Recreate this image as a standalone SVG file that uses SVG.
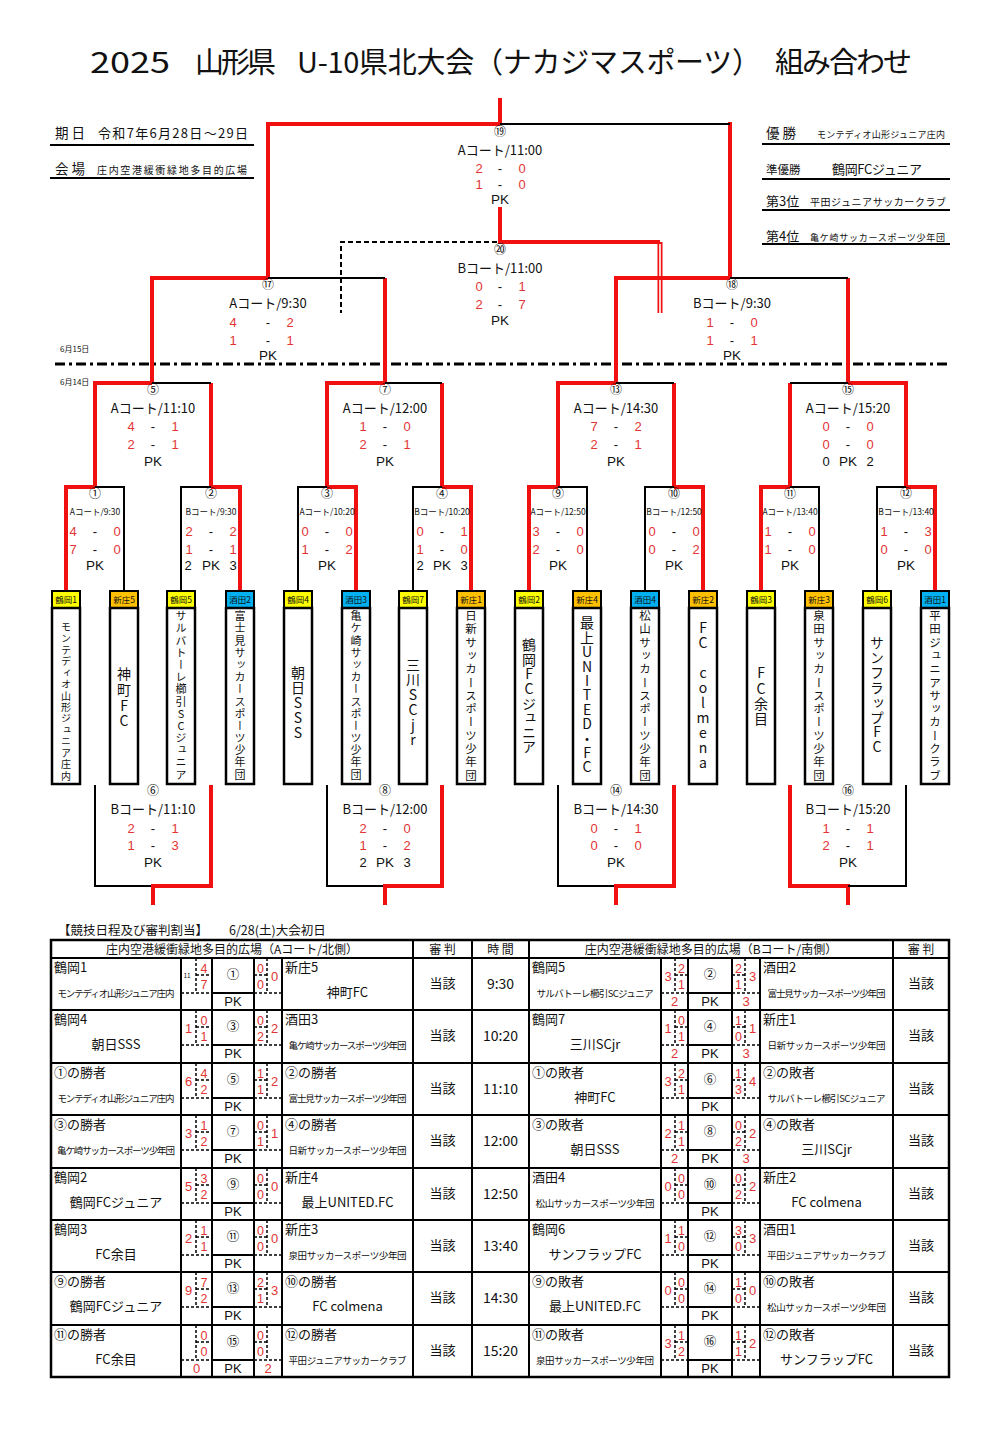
<svg xmlns="http://www.w3.org/2000/svg" width="998" height="1433" viewBox="0 0 998 1433">
<defs>
<style>
text{font-family:"Noto Sans CJK JP","Noto Sans",sans-serif;fill:#111}
.r{stroke:#f01010;stroke-width:4;fill:none}
.k{stroke:#000;stroke-width:2;fill:none}
.kd{stroke:#000;stroke-width:2;fill:none;stroke-dasharray:5,3}
.tl{stroke:#000;stroke-width:2;fill:none}
.td{stroke:#000;stroke-width:1.5;fill:none;stroke-dasharray:3,2}
.cn{font-size:12px;text-anchor:middle}
.ct{font-size:13px;text-anchor:middle}
.cs{font-size:8.5px;text-anchor:middle}
.s{font-family:"Liberation Sans",Arial,sans-serif;font-size:13px;fill:#e23434;text-anchor:middle}
.d{font-family:"Liberation Sans",Arial,sans-serif;font-size:13px;text-anchor:middle}
.pk{font-family:"Liberation Sans",Arial,sans-serif;font-size:13.5px;text-anchor:middle}
.lb{stroke:#000;stroke-width:2}
.nb{fill:#fff;stroke:#000;stroke-width:2.5}
.lt{font-size:8.5px;text-anchor:middle}
.vt{writing-mode:vertical-rl;text-orientation:upright;text-anchor:start}
.tlab{font-size:13px}
.tn{font-size:13px;text-anchor:middle}
.tns{font-size:9.5px;text-anchor:middle}
.h{font-family:"Liberation Sans",Arial,sans-serif;font-size:12.5px;fill:#e23434;text-anchor:middle}
.to{font-family:"Liberation Sans",Arial,sans-serif;font-size:13px;fill:#e23434;text-anchor:middle}
.tm{font-size:12.5px;text-anchor:middle}
.tp{font-family:"Liberation Sans",Arial,sans-serif;font-size:13px;text-anchor:middle}
.tj{font-size:13px;text-anchor:middle}
.tt{font-size:14px;text-anchor:middle}
.hd{font-size:12px;text-anchor:middle}
</style>
</defs>
<rect width="998" height="1433" fill="#fff"/>

<g id="title">
<text font-size="29" y="73"><tspan x="90" textLength="80" lengthAdjust="spacingAndGlyphs">2025</tspan><tspan x="195" textLength="81">山形県</tspan><tspan x="297" textLength="464">U-10県北大会（ナカジマスポーツ）</tspan><tspan x="775" textLength="137">組み合わせ</tspan></text>
</g>
<g id="info">
<text y="138"><tspan x="55" font-size="13.5">期 日</tspan><tspan x="98" font-size="13" textLength="150">令和7年6月28日～29日</tspan></text>
<text y="174"><tspan x="55" font-size="13.5">会 場</tspan><tspan x="97" font-size="10" textLength="150">庄内空港緩衝緑地多目的広場</tspan></text>
<path class="tl" d="M50,145H254M50,178H254"/>
<text y="138"><tspan x="766" font-size="13.5">優 勝</tspan><tspan x="817" font-size="9" textLength="128">モンテディオ山形ジュニア庄内</tspan></text>
<text y="174"><tspan x="766" font-size="11.5">準優勝</tspan><tspan x="832" font-size="13" textLength="90">鶴岡FCジュニア</tspan></text>
<text y="206"><tspan x="766" font-size="13">第3位</tspan><tspan x="810" font-size="10" textLength="136">平田ジュニアサッカークラブ</tspan></text>
<text y="241"><tspan x="766" font-size="13">第4位</tspan><tspan x="810" font-size="9" textLength="135">亀ケ崎サッカースポーツ少年団</tspan></text>
<path class="tl" d="M762,144H950M762,179H950M762,210H950M762,244H950"/>
<text x="60" y="352" font-size="8">6月15日</text>
<text x="60" y="385" font-size="8">6月14日</text>
<path d="M55,364H948" stroke="#000" stroke-width="3" stroke-dasharray="10,4,3,4" fill="none"/>
</g>

<g id="connectors">
<path class="r" d="M500,98V124M268,124H500M268,122V278M730,122V278"/>
<path class="k" d="M500,124H730"/>
<path class="r" d="M500,207V242H660"/>
<path d="M660,242V313" stroke="#f01010" stroke-width="5" fill="none"/>
<path d="M660,244V313" stroke="#fff" stroke-width="1.6" fill="none"/>
<path class="kd" d="M497,242H341V313"/>
<path class="r" d="M152,383V278H268M385,278V383"/>
<path class="k" d="M268,278H385"/>
<path class="r" d="M616,383V278H730M848,278V383"/>
<path class="k" d="M730,278H848"/>
<path class="r" d="M95,487V383H152M211,383V487"/>
<path class="k" d="M152,383H211"/>
<path class="r" d="M327,487V383H385M442,383V487"/>
<path class="k" d="M385,383H442"/>
<path class="r" d="M558,487V383H616M674,383V487"/>
<path class="k" d="M616,383H674"/>
<path class="r" d="M790,383V487M848,383H906V487"/>
<path class="k" d="M790,383H848"/>
<path class="r" d="M66,592V487H95"/><path class="k" d="M95,487H124V592"/>
<path class="k" d="M181,592V487H211"/><path class="r" d="M211,487H240V592"/>
<path class="k" d="M298,592V487H327"/><path class="r" d="M327,487H356V592"/>
<path class="k" d="M413,592V487H442"/><path class="r" d="M442,487H471V592H485"/>
<path class="r" d="M516,592H529V487H558"/><path class="k" d="M558,487H587V592"/>
<path class="k" d="M645,592V487H674"/><path class="r" d="M674,487H703V592H716"/>
<path class="r" d="M749,592H761V487H790"/><path class="k" d="M790,487H819V592"/>
<path class="k" d="M877,592V487H906"/><path class="r" d="M906,487H935V592"/>
<path class="k" d="M95,785V886H153"/><path class="r" d="M211,785V886H153V905"/>
<path class="k" d="M327,785V886H385"/><path class="r" d="M442,785V886H385V905"/>
<path class="k" d="M558,785V886H616"/><path class="r" d="M674,785V886H616V905"/>
<path class="r" d="M790,785V886H848V905"/><path class="k" d="M906,785V886H848"/>
</g>

<g id="m19"><text class="cn" x="500" y="136">⑲</text><text class="ct" x="500" y="155">Aコート/11:00</text><text class="s" x="479" y="173">2</text><text class="d" x="500" y="173">-</text><text class="s" x="522" y="173">0</text><text class="s" x="479" y="189">1</text><text class="d" x="500" y="189">-</text><text class="s" x="522" y="189">0</text><text class="pk" x="500" y="204">PK</text></g>
<g id="m20"><text class="cn" x="500" y="254">⑳</text><text class="ct" x="500" y="273">Bコート/11:00</text><text class="s" x="479" y="291">0</text><text class="d" x="500" y="291">-</text><text class="s" x="522" y="291">1</text><text class="s" x="479" y="309">2</text><text class="d" x="500" y="309">-</text><text class="s" x="522" y="309">7</text><text class="pk" x="500" y="325">PK</text></g>
<g id="m17"><text class="cn" x="268" y="289">⑰</text><text class="ct" x="268" y="308">Aコート/9:30</text><text class="s" x="233" y="327">4</text><text class="d" x="268" y="327">-</text><text class="s" x="290" y="327">2</text><text class="s" x="233" y="345">1</text><text class="d" x="268" y="345">-</text><text class="s" x="290" y="345">1</text><text class="pk" x="268" y="360">PK</text></g>
<g id="m18"><text class="cn" x="732" y="289">⑱</text><text class="ct" x="732" y="308">Bコート/9:30</text><text class="s" x="710" y="327">1</text><text class="d" x="732" y="327">-</text><text class="s" x="754" y="327">0</text><text class="s" x="710" y="345">1</text><text class="d" x="732" y="345">-</text><text class="s" x="754" y="345">1</text><text class="pk" x="732" y="360">PK</text></g>

<g id="m5"><text class="cn" x="153" y="394">⑤</text><text class="ct" x="153" y="413">Aコート/11:10</text><text class="s" x="131" y="431">4</text><text class="d" x="153" y="431">-</text><text class="s" x="175" y="431">1</text><text class="s" x="131" y="449">2</text><text class="d" x="153" y="449">-</text><text class="s" x="175" y="449">1</text><text class="pk" x="153" y="466">PK</text></g>
<g id="m7"><text class="cn" x="385" y="394">⑦</text><text class="ct" x="385" y="413">Aコート/12:00</text><text class="s" x="363" y="431">1</text><text class="d" x="385" y="431">-</text><text class="s" x="407" y="431">0</text><text class="s" x="363" y="449">2</text><text class="d" x="385" y="449">-</text><text class="s" x="407" y="449">1</text><text class="pk" x="385" y="466">PK</text></g>
<g id="m13"><text class="cn" x="616" y="394">⑬</text><text class="ct" x="616" y="413">Aコート/14:30</text><text class="s" x="594" y="431">7</text><text class="d" x="616" y="431">-</text><text class="s" x="638" y="431">2</text><text class="s" x="594" y="449">2</text><text class="d" x="616" y="449">-</text><text class="s" x="638" y="449">1</text><text class="pk" x="616" y="466">PK</text></g>
<g id="m15"><text class="cn" x="848" y="394">⑮</text><text class="ct" x="848" y="413">Aコート/15:20</text><text class="s" x="826" y="431">0</text><text class="d" x="848" y="431">-</text><text class="s" x="870" y="431">0</text><text class="s" x="826" y="449">0</text><text class="d" x="848" y="449">-</text><text class="s" x="870" y="449">0</text><text class="d" x="826" y="466">0</text><text class="pk" x="848" y="466">PK</text><text class="d" x="870" y="466">2</text></g>

<g id="m1"><text class="cn" x="95" y="498">①</text><text class="cs" x="95" y="515">Aコート/9:30</text><text class="s" x="73" y="536">4</text><text class="d" x="95" y="536">-</text><text class="s" x="117" y="536">0</text><text class="s" x="73" y="554">7</text><text class="d" x="95" y="554">-</text><text class="s" x="117" y="554">0</text><text class="pk" x="95" y="570">PK</text></g>
<g id="m2"><text class="cn" x="211" y="498">②</text><text class="cs" x="211" y="515">Bコート/9:30</text><text class="s" x="189" y="536">2</text><text class="d" x="211" y="536">-</text><text class="s" x="233" y="536">2</text><text class="s" x="189" y="554">1</text><text class="d" x="211" y="554">-</text><text class="s" x="233" y="554">1</text><text class="d" x="188" y="570">2</text><text class="pk" x="211" y="570">PK</text><text class="d" x="233" y="570">3</text></g>
<g id="m3"><text class="cn" x="327" y="498">③</text><text class="cs" x="327" y="515">Aコート/10:20</text><text class="s" x="305" y="536">0</text><text class="d" x="327" y="536">-</text><text class="s" x="349" y="536">0</text><text class="s" x="305" y="554">1</text><text class="d" x="327" y="554">-</text><text class="s" x="349" y="554">2</text><text class="pk" x="327" y="570">PK</text></g>
<g id="m4"><text class="cn" x="442" y="498">④</text><text class="cs" x="442" y="515">Bコート/10:20</text><text class="s" x="420" y="536">0</text><text class="d" x="442" y="536">-</text><text class="s" x="464" y="536">1</text><text class="s" x="420" y="554">1</text><text class="d" x="442" y="554">-</text><text class="s" x="464" y="554">0</text><text class="d" x="420" y="570">2</text><text class="pk" x="442" y="570">PK</text><text class="d" x="464" y="570">3</text></g>
<g id="m9"><text class="cn" x="558" y="498">⑨</text><text class="cs" x="558" y="515">Aコート/12:50</text><text class="s" x="536" y="536">3</text><text class="d" x="558" y="536">-</text><text class="s" x="580" y="536">0</text><text class="s" x="536" y="554">2</text><text class="d" x="558" y="554">-</text><text class="s" x="580" y="554">0</text><text class="pk" x="558" y="570">PK</text></g>
<g id="m10"><text class="cn" x="674" y="498">⑩</text><text class="cs" x="674" y="515">Bコート/12:50</text><text class="s" x="652" y="536">0</text><text class="d" x="674" y="536">-</text><text class="s" x="696" y="536">0</text><text class="s" x="652" y="554">0</text><text class="d" x="674" y="554">-</text><text class="s" x="696" y="554">2</text><text class="pk" x="674" y="570">PK</text></g>
<g id="m11"><text class="cn" x="790" y="498">⑪</text><text class="cs" x="790" y="515">Aコート/13:40</text><text class="s" x="768" y="536">1</text><text class="d" x="790" y="536">-</text><text class="s" x="812" y="536">0</text><text class="s" x="768" y="554">1</text><text class="d" x="790" y="554">-</text><text class="s" x="812" y="554">0</text><text class="pk" x="790" y="570">PK</text></g>
<g id="m12"><text class="cn" x="906" y="498">⑫</text><text class="cs" x="906" y="515">Bコート/13:40</text><text class="s" x="884" y="536">1</text><text class="d" x="906" y="536">-</text><text class="s" x="928" y="536">3</text><text class="s" x="884" y="554">0</text><text class="d" x="906" y="554">-</text><text class="s" x="928" y="554">0</text><text class="pk" x="906" y="570">PK</text></g>

<g id="m6"><text class="cn" x="153" y="795">⑥</text><text class="ct" x="153" y="814">Bコート/11:10</text><text class="s" x="131" y="833">2</text><text class="d" x="153" y="833">-</text><text class="s" x="175" y="833">1</text><text class="s" x="131" y="850">1</text><text class="d" x="153" y="850">-</text><text class="s" x="175" y="850">3</text><text class="pk" x="153" y="867">PK</text></g>
<g id="m8"><text class="cn" x="385" y="795">⑧</text><text class="ct" x="385" y="814">Bコート/12:00</text><text class="s" x="363" y="833">2</text><text class="d" x="385" y="833">-</text><text class="s" x="407" y="833">0</text><text class="s" x="363" y="850">1</text><text class="d" x="385" y="850">-</text><text class="s" x="407" y="850">2</text><text class="d" x="363" y="867">2</text><text class="pk" x="385" y="867">PK</text><text class="d" x="407" y="867">3</text></g>
<g id="m14"><text class="cn" x="616" y="795">⑭</text><text class="ct" x="616" y="814">Bコート/14:30</text><text class="s" x="594" y="833">0</text><text class="d" x="616" y="833">-</text><text class="s" x="638" y="833">1</text><text class="s" x="594" y="850">0</text><text class="d" x="616" y="850">-</text><text class="s" x="638" y="850">0</text><text class="pk" x="616" y="867">PK</text></g>
<g id="m16"><text class="cn" x="848" y="795">⑯</text><text class="ct" x="848" y="814">Bコート/15:20</text><text class="s" x="826" y="833">1</text><text class="d" x="848" y="833">-</text><text class="s" x="870" y="833">1</text><text class="s" x="826" y="850">2</text><text class="d" x="848" y="850">-</text><text class="s" x="870" y="850">1</text><text class="pk" x="848" y="867">PK</text></g>

<g id="team1"><rect class="lb" x="52" y="591" width="28" height="17" fill="#ffff00"/><text class="lt" x="66" y="603">鶴岡1</text><rect class="nb" x="52" y="608" width="28" height="176"/><text class="vt" x="66" y="622" font-size="10" textLength="159" lengthAdjust="spacing">モンテディオ山形ジュニア庄内</text></g>
<g id="team2"><rect class="lb" x="110" y="591" width="28" height="17" fill="#ffc000"/><text class="lt" x="124" y="603">新庄5</text><rect class="nb" x="110" y="608" width="28" height="176"/><text class="vt" x="124" y="667" font-size="14" textLength="61" lengthAdjust="spacing">神町FC</text></g>
<g id="team3"><rect class="lb" x="167" y="591" width="28" height="17" fill="#ffff00"/><text class="lt" x="181" y="603">鶴岡5</text><rect class="nb" x="167" y="608" width="28" height="176"/><text class="vt" x="181" y="610.5" font-size="11" textLength="169.5" lengthAdjust="spacing">サルバトーレ櫛引SCジュニア</text></g>
<g id="team4"><rect class="lb" x="226" y="591" width="28" height="17" fill="#00b0f0"/><text class="lt" x="240" y="603">酒田2</text><rect class="nb" x="226" y="608" width="28" height="176"/><text class="vt" x="240" y="610.5" font-size="11" textLength="169.5" lengthAdjust="spacing">富士見サッカースポーツ少年団</text></g>
<g id="team5"><rect class="lb" x="284" y="591" width="28" height="17" fill="#ffff00"/><text class="lt" x="298" y="603">鶴岡4</text><rect class="nb" x="284" y="608" width="28" height="176"/><text class="vt" x="298" y="666" font-size="14" textLength="74" lengthAdjust="spacing">朝日SSS</text></g>
<g id="team6"><rect class="lb" x="342" y="591" width="28" height="17" fill="#00b0f0"/><text class="lt" x="356" y="603">酒田3</text><rect class="nb" x="342" y="608" width="28" height="176"/><text class="vt" x="356" y="610.5" font-size="11" textLength="169.5" lengthAdjust="spacing">亀ケ崎サッカースポーツ少年団</text></g>
<g id="team7"><rect class="lb" x="399" y="591" width="28" height="17" fill="#ffff00"/><text class="lt" x="413" y="603">鶴岡7</text><rect class="nb" x="399" y="608" width="28" height="176"/><text class="vt" x="413" y="658" font-size="14" textLength="89" lengthAdjust="spacing">三川SCjr</text></g>
<g id="team8"><rect class="lb" x="457" y="591" width="28" height="17" fill="#ffc000"/><text class="lt" x="471" y="603">新庄1</text><rect class="nb" x="457" y="608" width="28" height="176"/><text class="vt" x="471" y="610" font-size="11.5" textLength="171" lengthAdjust="spacing">日新サッカースポーツ少年団</text></g>
<g id="team9"><rect class="lb" x="515" y="591" width="28" height="17" fill="#ffff00"/><text class="lt" x="529" y="603">鶴岡2</text><rect class="nb" x="515" y="608" width="28" height="176"/><text class="vt" x="529" y="638" font-size="14" textLength="116" lengthAdjust="spacing">鶴岡FCジュニア</text></g>
<g id="team10"><rect class="lb" x="573" y="591" width="28" height="17" fill="#ffc000"/><text class="lt" x="587" y="603">新庄4</text><rect class="nb" x="573" y="608" width="28" height="176"/><text class="vt" x="587" y="616" font-size="14" textLength="158" lengthAdjust="spacing">最上UNITED・FC</text></g>
<g id="team11"><rect class="lb" x="631" y="591" width="28" height="17" fill="#00b0f0"/><text class="lt" x="645" y="603">酒田4</text><rect class="nb" x="631" y="608" width="28" height="176"/><text class="vt" x="645" y="610" font-size="11.5" textLength="171" lengthAdjust="spacing">松山サッカースポーツ少年団</text></g>
<g id="team12"><rect class="lb" x="689" y="591" width="28" height="17" fill="#ffc000"/><text class="lt" x="703" y="603">新庄2</text><rect class="nb" x="689" y="608" width="28" height="176"/><text class="vt" x="703" y="621" font-size="14" textLength="149" lengthAdjust="spacing">FC colmena</text></g>
<g id="team13"><rect class="lb" x="747" y="591" width="28" height="17" fill="#ffff00"/><text class="lt" x="761" y="603">鶴岡3</text><rect class="nb" x="747" y="608" width="28" height="176"/><text class="vt" x="761" y="666" font-size="14" textLength="60" lengthAdjust="spacing">FC余目</text></g>
<g id="team14"><rect class="lb" x="805" y="591" width="28" height="17" fill="#ffc000"/><text class="lt" x="819" y="603">新庄3</text><rect class="nb" x="805" y="608" width="28" height="176"/><text class="vt" x="819" y="610" font-size="11.5" textLength="171" lengthAdjust="spacing">泉田サッカースポーツ少年団</text></g>
<g id="team15"><rect class="lb" x="863" y="591" width="28" height="17" fill="#ffff00"/><text class="lt" x="877" y="603">鶴岡6</text><rect class="nb" x="863" y="608" width="28" height="176"/><text class="vt" x="877" y="636" font-size="14" textLength="118" lengthAdjust="spacing">サンフラップFC</text></g>
<g id="team16"><rect class="lb" x="921" y="591" width="28" height="17" fill="#00b0f0"/><text class="lt" x="935" y="603">酒田1</text><rect class="nb" x="921" y="608" width="28" height="176"/><text class="vt" x="935" y="610" font-size="11.5" textLength="171" lengthAdjust="spacing">平田ジュニアサッカークラブ</text></g>

<g id="table">
<text y="935" font-size="12.5"><tspan x="58">【競技日程及び審判割当】</tspan><tspan x="229">6/28(土)大会初日</tspan></text>
<rect x="51" y="940" width="898" height="437" fill="none" stroke="#000" stroke-width="2.5"/>
<path class="tl" d="M51,958H949M51,1010H949M51,1063H949M51,1115H949M51,1168H949M51,1220H949M51,1272H949M51,1325H949"/>
<path class="tl" d="M413,940V1377M472,940V1377M529,940V1377M893,940V1377"/>
<path class="tl" d="M181,958V1377M212,958V1377M254,958V1377M282,958V1377M661,958V1377M688,958V1377M732,958V1377M760,958V1377"/>
<path class="tl" d="M212,993H254M688,993H732M212,1045H254M688,1045H732M212,1098H254M688,1098H732M212,1150H254M688,1150H732M212,1203H254M688,1203H732M212,1255H254M688,1255H732M212,1307H254M688,1307H732M212,1360H254M688,1360H732"/>
<path class="td" d="M181,993H212M254,993H282M661,993H688M732,993H760M181,1045H212M254,1045H282M661,1045H688M732,1045H760M181,1098H212M254,1098H282M661,1098H688M732,1098H760M181,1150H212M254,1150H282M661,1150H688M732,1150H760M181,1203H212M254,1203H282M661,1203H688M732,1203H760M181,1255H212M254,1255H282M661,1255H688M732,1255H760M181,1307H212M254,1307H282M661,1307H688M732,1307H760M181,1360H212M254,1360H282M661,1360H688M732,1360H760"/>
<path class="td" d="M196,958V993M267,958V993M675,958V993M745,958V993M196,1010V1045M267,1010V1045M675,1010V1045M745,1010V1045M196,1063V1098M267,1063V1098M675,1063V1098M745,1063V1098M196,1115V1150M267,1115V1150M675,1115V1150M745,1115V1150M196,1168V1203M267,1168V1203M675,1168V1203M745,1168V1203M196,1220V1255M267,1220V1255M675,1220V1255M745,1220V1255M196,1272V1307M267,1272V1307M675,1272V1307M745,1272V1307M196,1325V1360M267,1325V1360M675,1325V1360M745,1325V1360"/>
<path class="td" d="M196,975H212M254,975H267M675,975H688M732,975H745M196,1027H212M254,1027H267M675,1027H688M732,1027H745M196,1080H212M254,1080H267M675,1080H688M732,1080H745M196,1132H212M254,1132H267M675,1132H688M732,1132H745M196,1185H212M254,1185H267M675,1185H688M732,1185H745M196,1237H212M254,1237H267M675,1237H688M732,1237H745M196,1289H212M254,1289H267M675,1289H688M732,1289H745M196,1342H212M254,1342H267M675,1342H688M732,1342H745"/>
<text class="hd" x="232" y="954">庄内空港緩衝緑地多目的広場（Aコート/北側）</text>
<text class="hd" x="442.5" y="954">審 判</text>
<text class="hd" x="500.5" y="954">時 間</text>
<text class="hd" x="711" y="954">庄内空港緩衝緑地多目的広場（Bコート/南側）</text>
<text class="hd" x="921" y="954">審 判</text>

<g id="rowA1"><text class="tlab" x="54" y="972">鶴岡1</text><text class="tns" x="116" y="997" textLength="117">モンテディオ山形ジュニア庄内</text><text x="187" y="978" font-size="6.5" fill="#e23434" text-anchor="middle" font-family="Liberation Sans, sans-serif">11</text><text class="h" x="204" y="972.5">4</text><text class="h" x="204" y="988.5">7</text><text class="tm" x="233" y="979">①</text><text class="h" x="260.5" y="972.5">0</text><text class="h" x="260.5" y="988.5">0</text><text class="to" x="274.5" y="980.5">0</text><text class="tp" x="233" y="1006">PK</text><text class="tlab" x="285" y="972">新庄5</text><text class="tn" x="347.5" y="997">神町FC</text><text class="tj" x="442.5" y="988">当該</text><text class="tt" x="500.5" y="989">9:30</text></g>
<g id="rowA2"><text class="tlab" x="54" y="1024">鶴岡4</text><text class="tn" x="116" y="1049">朝日SSS</text><text class="to" x="188.5" y="1032.5">1</text><text class="h" x="204" y="1024.5">0</text><text class="h" x="204" y="1040.5">1</text><text class="tm" x="233" y="1031">③</text><text class="h" x="260.5" y="1024.5">0</text><text class="h" x="260.5" y="1040.5">2</text><text class="to" x="274.5" y="1032.5">2</text><text class="tp" x="233" y="1058">PK</text><text class="tlab" x="285" y="1024">酒田3</text><text class="tns" x="347.5" y="1049" textLength="118">亀ケ崎サッカースポーツ少年団</text><text class="tj" x="442.5" y="1040">当該</text><text class="tt" x="500.5" y="1041">10:20</text></g>
<g id="rowA3"><text class="tlab" x="54" y="1077">①の勝者</text><text class="tns" x="116" y="1102" textLength="117">モンテディオ山形ジュニア庄内</text><text class="to" x="188.5" y="1085.5">6</text><text class="h" x="204" y="1077.5">4</text><text class="h" x="204" y="1093.5">2</text><text class="tm" x="233" y="1084">⑤</text><text class="h" x="260.5" y="1077.5">1</text><text class="h" x="260.5" y="1093.5">1</text><text class="to" x="274.5" y="1085.5">2</text><text class="tp" x="233" y="1111">PK</text><text class="tlab" x="285" y="1077">②の勝者</text><text class="tns" x="347.5" y="1102" textLength="118">富士見サッカースポーツ少年団</text><text class="tj" x="442.5" y="1093">当該</text><text class="tt" x="500.5" y="1094">11:10</text></g>
<g id="rowA4"><text class="tlab" x="54" y="1129">③の勝者</text><text class="tns" x="116" y="1154" textLength="118">亀ケ崎サッカースポーツ少年団</text><text class="to" x="188.5" y="1137.5">3</text><text class="h" x="204" y="1129.5">1</text><text class="h" x="204" y="1145.5">2</text><text class="tm" x="233" y="1136">⑦</text><text class="h" x="260.5" y="1129.5">0</text><text class="h" x="260.5" y="1145.5">1</text><text class="to" x="274.5" y="1137.5">1</text><text class="tp" x="233" y="1163">PK</text><text class="tlab" x="285" y="1129">④の勝者</text><text class="tns" x="347.5" y="1154" textLength="118">日新サッカースポーツ少年団</text><text class="tj" x="442.5" y="1145">当該</text><text class="tt" x="500.5" y="1146">12:00</text></g>
<g id="rowA5"><text class="tlab" x="54" y="1182">鶴岡2</text><text class="tn" x="116" y="1207">鶴岡FCジュニア</text><text class="to" x="188.5" y="1190.5">5</text><text class="h" x="204" y="1182.5">3</text><text class="h" x="204" y="1198.5">2</text><text class="tm" x="233" y="1189">⑨</text><text class="h" x="260.5" y="1182.5">0</text><text class="h" x="260.5" y="1198.5">0</text><text class="to" x="274.5" y="1190.5">0</text><text class="tp" x="233" y="1216">PK</text><text class="tlab" x="285" y="1182">新庄4</text><text class="tn" x="347.5" y="1207">最上UNITED.FC</text><text class="tj" x="442.5" y="1198">当該</text><text class="tt" x="500.5" y="1199">12:50</text></g>
<g id="rowA6"><text class="tlab" x="54" y="1234">鶴岡3</text><text class="tn" x="116" y="1259">FC余目</text><text class="to" x="188.5" y="1242.5">2</text><text class="h" x="204" y="1234.5">1</text><text class="h" x="204" y="1250.5">1</text><text class="tm" x="233" y="1241">⑪</text><text class="h" x="260.5" y="1234.5">0</text><text class="h" x="260.5" y="1250.5">0</text><text class="to" x="274.5" y="1242.5">0</text><text class="tp" x="233" y="1268">PK</text><text class="tlab" x="285" y="1234">新庄3</text><text class="tns" x="347.5" y="1259" textLength="118">泉田サッカースポーツ少年団</text><text class="tj" x="442.5" y="1250">当該</text><text class="tt" x="500.5" y="1251">13:40</text></g>
<g id="rowA7"><text class="tlab" x="54" y="1286">⑨の勝者</text><text class="tn" x="116" y="1311">鶴岡FCジュニア</text><text class="to" x="188.5" y="1294.5">9</text><text class="h" x="204" y="1286.5">7</text><text class="h" x="204" y="1302.5">2</text><text class="tm" x="233" y="1293">⑬</text><text class="h" x="260.5" y="1286.5">2</text><text class="h" x="260.5" y="1302.5">1</text><text class="to" x="274.5" y="1294.5">3</text><text class="tp" x="233" y="1320">PK</text><text class="tlab" x="285" y="1286">⑩の勝者</text><text class="tn" x="347.5" y="1311">FC colmena</text><text class="tj" x="442.5" y="1302">当該</text><text class="tt" x="500.5" y="1303">14:30</text></g>
<g id="rowA8"><text class="tlab" x="54" y="1339">⑪の勝者</text><text class="tn" x="116" y="1364">FC余目</text><text class="h" x="204" y="1339.5">0</text><text class="h" x="204" y="1355.5">0</text><text class="tm" x="233" y="1346">⑮</text><text class="h" x="260.5" y="1339.5">0</text><text class="h" x="260.5" y="1355.5">0</text><text class="to" x="196.5" y="1373">0</text><text class="tp" x="233" y="1373">PK</text><text class="to" x="268" y="1373">2</text><text class="tlab" x="285" y="1339">⑫の勝者</text><text class="tns" x="347.5" y="1364" textLength="118">平田ジュニアサッカークラブ</text><text class="tj" x="442.5" y="1355">当該</text><text class="tt" x="500.5" y="1356">15:20</text></g>

<g id="rowB1"><text class="tlab" x="532" y="972">鶴岡5</text><text class="tns" x="595" y="997" textLength="117">サルバトーレ櫛引SCジュニア</text><text class="to" x="668" y="980.5">3</text><text class="h" x="681.5" y="972.5">2</text><text class="h" x="681.5" y="988.5">1</text><text class="tm" x="710" y="979">②</text><text class="h" x="738.5" y="972.5">2</text><text class="h" x="738.5" y="988.5">1</text><text class="to" x="752.5" y="980.5">3</text><text class="to" x="674.5" y="1006">2</text><text class="tp" x="710" y="1006">PK</text><text class="to" x="746" y="1006">3</text><text class="tlab" x="763" y="972">酒田2</text><text class="tns" x="826.5" y="997" textLength="118">富士見サッカースポーツ少年団</text><text class="tj" x="921" y="988">当該</text></g>
<g id="rowB2"><text class="tlab" x="532" y="1024">鶴岡7</text><text class="tn" x="595" y="1049">三川SCjr</text><text class="to" x="668" y="1032.5">1</text><text class="h" x="681.5" y="1024.5">0</text><text class="h" x="681.5" y="1040.5">1</text><text class="tm" x="710" y="1031">④</text><text class="h" x="738.5" y="1024.5">1</text><text class="h" x="738.5" y="1040.5">0</text><text class="to" x="752.5" y="1032.5">1</text><text class="to" x="674.5" y="1058">2</text><text class="tp" x="710" y="1058">PK</text><text class="to" x="746" y="1058">3</text><text class="tlab" x="763" y="1024">新庄1</text><text class="tns" x="826.5" y="1049" textLength="118">日新サッカースポーツ少年団</text><text class="tj" x="921" y="1040">当該</text></g>
<g id="rowB3"><text class="tlab" x="532" y="1077">①の敗者</text><text class="tn" x="595" y="1102">神町FC</text><text class="to" x="668" y="1085.5">3</text><text class="h" x="681.5" y="1077.5">2</text><text class="h" x="681.5" y="1093.5">1</text><text class="tm" x="710" y="1084">⑥</text><text class="h" x="738.5" y="1077.5">1</text><text class="h" x="738.5" y="1093.5">3</text><text class="to" x="752.5" y="1085.5">4</text><text class="tp" x="710" y="1111">PK</text><text class="tlab" x="763" y="1077">②の敗者</text><text class="tns" x="826.5" y="1102" textLength="118">サルバトーレ櫛引SCジュニア</text><text class="tj" x="921" y="1093">当該</text></g>
<g id="rowB4"><text class="tlab" x="532" y="1129">③の敗者</text><text class="tn" x="595" y="1154">朝日SSS</text><text class="to" x="668" y="1137.5">2</text><text class="h" x="681.5" y="1129.5">1</text><text class="h" x="681.5" y="1145.5">1</text><text class="tm" x="710" y="1136">⑧</text><text class="h" x="738.5" y="1129.5">0</text><text class="h" x="738.5" y="1145.5">2</text><text class="to" x="752.5" y="1137.5">2</text><text class="to" x="674.5" y="1163">2</text><text class="tp" x="710" y="1163">PK</text><text class="to" x="746" y="1163">3</text><text class="tlab" x="763" y="1129">④の敗者</text><text class="tn" x="826.5" y="1154">三川SCjr</text><text class="tj" x="921" y="1145">当該</text></g>
<g id="rowB5"><text class="tlab" x="532" y="1182">酒田4</text><text class="tns" x="595" y="1207" textLength="119">松山サッカースポーツ少年団</text><text class="to" x="668" y="1190.5">0</text><text class="h" x="681.5" y="1182.5">0</text><text class="h" x="681.5" y="1198.5">0</text><text class="tm" x="710" y="1189">⑩</text><text class="h" x="738.5" y="1182.5">0</text><text class="h" x="738.5" y="1198.5">2</text><text class="to" x="752.5" y="1190.5">2</text><text class="tp" x="710" y="1216">PK</text><text class="tlab" x="763" y="1182">新庄2</text><text class="tn" x="826.5" y="1207">FC colmena</text><text class="tj" x="921" y="1198">当該</text></g>
<g id="rowB6"><text class="tlab" x="532" y="1234">鶴岡6</text><text class="tn" x="595" y="1259">サンフラップFC</text><text class="to" x="668" y="1242.5">1</text><text class="h" x="681.5" y="1234.5">1</text><text class="h" x="681.5" y="1250.5">0</text><text class="tm" x="710" y="1241">⑫</text><text class="h" x="738.5" y="1234.5">3</text><text class="h" x="738.5" y="1250.5">0</text><text class="to" x="752.5" y="1242.5">3</text><text class="tp" x="710" y="1268">PK</text><text class="tlab" x="763" y="1234">酒田1</text><text class="tns" x="826.5" y="1259" textLength="119">平田ジュニアサッカークラブ</text><text class="tj" x="921" y="1250">当該</text></g>
<g id="rowB7"><text class="tlab" x="532" y="1286">⑨の敗者</text><text class="tn" x="595" y="1311">最上UNITED.FC</text><text class="to" x="668" y="1294.5">0</text><text class="h" x="681.5" y="1286.5">0</text><text class="h" x="681.5" y="1302.5">0</text><text class="tm" x="710" y="1293">⑭</text><text class="h" x="738.5" y="1286.5">1</text><text class="h" x="738.5" y="1302.5">0</text><text class="to" x="752.5" y="1294.5">0</text><text class="tp" x="710" y="1320">PK</text><text class="tlab" x="763" y="1286">⑩の敗者</text><text class="tns" x="826.5" y="1311" textLength="119">松山サッカースポーツ少年団</text><text class="tj" x="921" y="1302">当該</text></g>
<g id="rowB8"><text class="tlab" x="532" y="1339">⑪の敗者</text><text class="tns" x="595" y="1364" textLength="118">泉田サッカースポーツ少年団</text><text class="to" x="668" y="1347.5">3</text><text class="h" x="681.5" y="1339.5">1</text><text class="h" x="681.5" y="1355.5">2</text><text class="tm" x="710" y="1346">⑯</text><text class="h" x="738.5" y="1339.5">1</text><text class="h" x="738.5" y="1355.5">1</text><text class="to" x="752.5" y="1347.5">2</text><text class="tp" x="710" y="1373">PK</text><text class="tlab" x="763" y="1339">⑫の敗者</text><text class="tn" x="826.5" y="1364">サンフラップFC</text><text class="tj" x="921" y="1355">当該</text></g>
</g>
</svg>
